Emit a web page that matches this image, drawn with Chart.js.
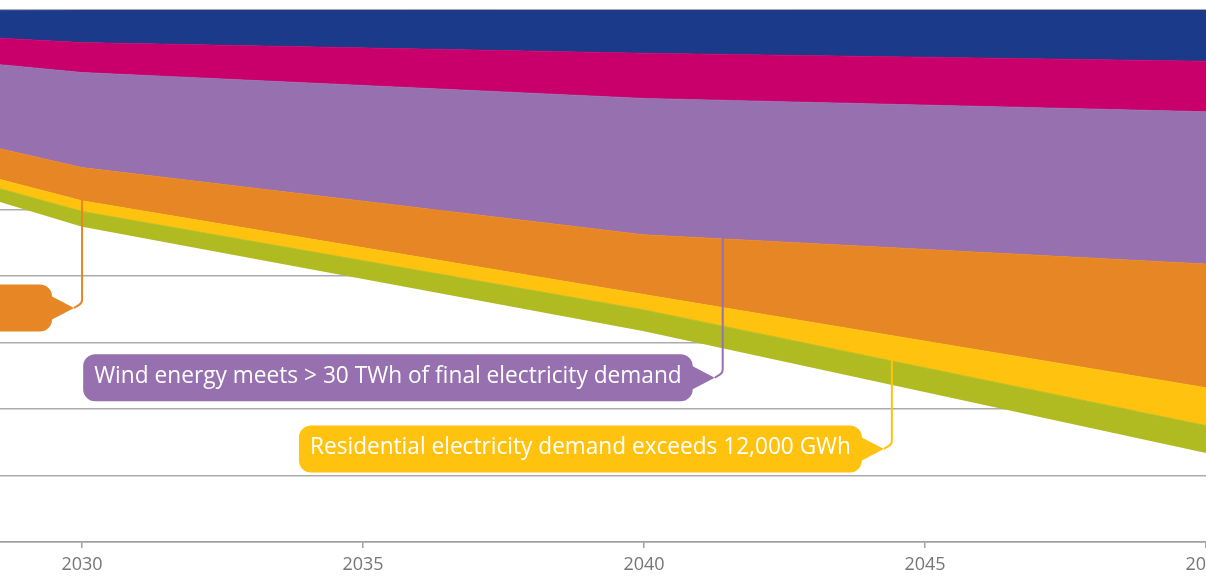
<!DOCTYPE html>
<html lang="en">
<head>
<meta charset="UTF-8" />
<title>Emissions pathway to 2050</title>
<script src="https://cdn.jsdelivr.net/npm/chart.js"></script>
<style>
  html, body { margin: 0; padding: 0; background: #fff; overflow: hidden; }
  #chart { display: block; }
</style>
</head>
<body>
<canvas id="chart" width="1206" height="585"></canvas>

<script>
// years and the thickness of each stacked band
const years   = [2028, 2030, 2040, 2050];
const base    = [52.5, 47.4, 31.7, 13.4];   // invisible floor under the bands
const green   = [1.9, 2.3, 3.2, 4.1];
const yellow  = [1.3, 1.6, 2.3, 5.7];
const orange  = [4.5, 5.0, 9.0, 18.6];
const purple  = [12.0, 14.3, 20.5, 22.9];
const magenta = [3.8, 4.5, 6.8, 7.6];
const blue    = [3.9, 4.9, 6.6, 7.7];

const xTicks = [2030, 2035, 2040, 2045, 2050];

const COLORS = {
  green: '#b0bb21',
  yellow: '#ffc20e',
  orange: '#e78625',
  purple: '#9670af',
  magenta: '#c9006b',
  blue: '#1b3a8a'
};

// callouts: box starts at boxFrom (year), leader line rises at anchor (year)
const callouts = [
  { text: '', color: COLORS.orange, boxFrom: 2027.4, anchor: 2030.0, centre: 35.2, band: 3 },
  { text: 'Wind energy meets > 30 TWh of final electricity demand', color: COLORS.purple, boxFrom: 2030.02, anchor: 2041.4, centre: 24.7, band: 4 },
  { text: 'Residential electricity demand exceeds 12,000 GWh', color: COLORS.yellow, boxFrom: 2033.86, anchor: 2044.41, centre: 14.0, band: 2 }
];

function series(values) {
  return years.map((x, i) => ({ x, y: values[i] }));
}

function band(label, values, color) {
  return {
    label,
    data: series(values),
    backgroundColor: color,
    borderColor: color,
    borderWidth: 0.8,
    pointRadius: 0,
    tension: 0,
    fill: '-1'
  };
}

// y pixel of a dataset's line at pixel x
function edgeAt(meta, px) {
  const pts = meta.data;
  for (let i = 0; i < pts.length - 1; i++) {
    const a = pts[i], b = pts[i + 1];
    if (px >= a.x && px <= b.x) {
      const t = (px - a.x) / (b.x - a.x);
      return a.y + t * (b.y - a.y);
    }
  }
  return pts[pts.length - 1].y;
}

const calloutPlugin = {
  id: 'callouts',
  afterDatasetsDraw(chart) {
    const ctx = chart.ctx;
    const xs = chart.scales.x, ys = chart.scales.y;
    const h = 47, r = 12, tail = 22;
    ctx.save();
    for (const c of callouts) {
      const lineX = xs.getPixelForValue(c.anchor);
      const mid = ys.getPixelForValue(c.centre);
      const top = mid - h / 2, bot = mid + h / 2;
      const tipX = lineX - 8;
      const R = tipX - tail;
      const L = xs.getPixelForValue(c.boxFrom);

      // leader line up into its band
      const upper = edgeAt(chart.getDatasetMeta(c.band), lineX);
      const lower = edgeAt(chart.getDatasetMeta(c.band - 1), lineX);
      const endY = (upper + lower) / 2;
      ctx.strokeStyle = c.color;
      ctx.lineWidth = 2;
      ctx.beginPath();
      ctx.moveTo(tipX, mid);
      ctx.arcTo(lineX, mid - (lineX - tipX) * 0.6, lineX, endY, 6);
      ctx.lineTo(lineX, endY);
      ctx.stroke();

      // tag shaped box
      ctx.fillStyle = c.color;
      ctx.beginPath();
      ctx.moveTo(L + r, top);
      ctx.lineTo(R - r, top);
      ctx.arcTo(R, top, R, top + r, r);
      ctx.lineTo(tipX, mid);
      ctx.lineTo(R, bot - r);
      ctx.arcTo(R, bot, R - r, bot, r);
      ctx.lineTo(L + r, bot);
      ctx.arcTo(L, bot, L, bot - r, r);
      ctx.lineTo(L, top + r);
      ctx.arcTo(L, top, L + r, top, r);
      ctx.closePath();
      ctx.fill();

      if (c.text) {
        ctx.fillStyle = '#fff';
        ctx.font = '23px "Open Sans", sans-serif';
        ctx.textAlign = 'center';
        ctx.textBaseline = 'middle';
        ctx.fillText(c.text, (L + R) / 2, mid - 1, R - L - 22);
      }
    }
    ctx.restore();
  }
};

new Chart(document.getElementById('chart'), {
  type: 'line',
  data: {
    datasets: [
      { label: 'base', data: series(base), borderWidth: 0, pointRadius: 0, fill: false, backgroundColor: 'transparent', borderColor: 'transparent' },
      band('green', green, COLORS.green),
      band('yellow', yellow, COLORS.yellow),
      band('orange', orange, COLORS.orange),
      band('purple', purple, COLORS.purple),
      band('magenta', magenta, COLORS.magenta),
      band('blue', blue, COLORS.blue)
    ]
  },
  options: {
    responsive: false,
    devicePixelRatio: 1,
    animation: false,
    layout: { padding: { top: 10, left: 0, right: 0, bottom: 0 } },
    plugins: {
      legend: { display: false },
      tooltip: { enabled: false },
      filler: { propagate: false }
    },
    scales: {
      x: {
        type: 'linear',
        min: 2028.54,
        max: 2050,
        afterBuildTicks: s => { s.ticks = xTicks.map(v => ({ value: v })); },
        afterFit: s => { s.paddingLeft = 0; s.paddingRight = 0; s.height = 43; },
        ticks: {
          includeBounds: false,
          color: '#767676',
          font: { family: '"Open Sans", sans-serif', size: 18 },
          padding: 6,
          maxRotation: 0,
          callback: v => String(v)
        },
        grid: { drawOnChartArea: false, drawTicks: true, tickLength: 6, color: '#a0a0a0', lineWidth: 1.5 },
        border: { color: '#a0a0a0', width: 1.5 }
      },
      y: {
        stacked: true,
        min: 0,
        max: 80,
        afterFit: s => { s.width = 0; },
        ticks: { display: false, stepSize: 10 },
        grid: { color: '#ababab', lineWidth: 1.5, drawTicks: false },
        border: { display: false }
      }
    }
  },
  plugins: [calloutPlugin]
});
</script>
</body>
</html>
